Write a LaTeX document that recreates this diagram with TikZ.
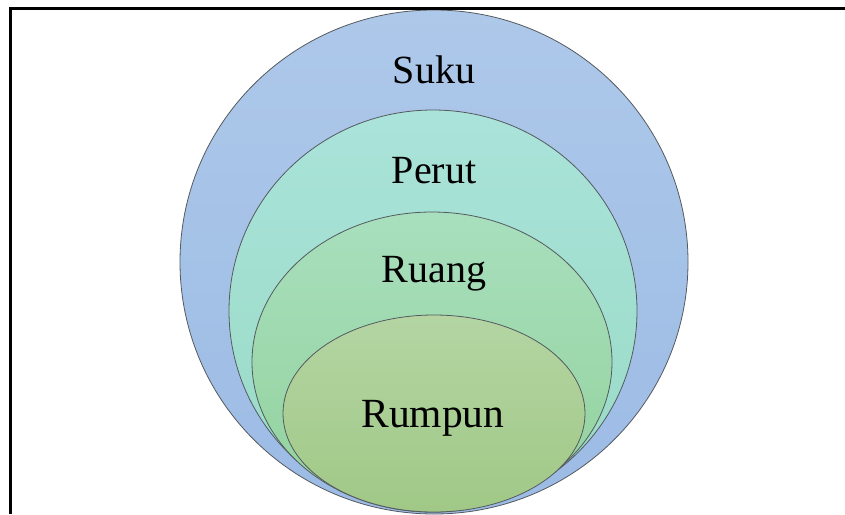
\documentclass[tikz,border=0pt]{standalone}
\usepackage{fontspec}
\setmainfont{Liberation Serif}
\definecolor{sukuT}{RGB}{173,200,233}
\definecolor{sukuB}{RGB}{156,187,229}
\definecolor{perutT}{RGB}{170,227,218}
\definecolor{perutB}{RGB}{152,218,196}
\definecolor{ruangT}{RGB}{168,223,190}
\definecolor{ruangB}{RGB}{146,210,155}
\definecolor{rumpunT}{RGB}{180,213,163}
\definecolor{rumpunB}{RGB}{160,200,134}
\definecolor{edge}{RGB}{85,90,95}
\tikzset{
  ring/.style={draw=edge, line width=0.8pt},
  lbl/.style={anchor=base, inner sep=0pt, font=\fontsize{40}{48}\selectfont, text=black},
  frame/.style={line width=3pt, draw=black}
}
\begin{document}
\begin{tikzpicture}[x=1pt,y=-1pt]
\useasboundingbox (0,0) rectangle (845,514);
\begin{scope}
\clip (0,0) rectangle (845,514);
\draw[ring, top color=sukuT, bottom color=sukuB] (434,262) ellipse [x radius=254pt, y radius=252pt];
\draw[ring, top color=perutT, bottom color=perutB] (433,311) ellipse [x radius=204pt, y radius=201pt];
\draw[ring, top color=ruangT, bottom color=ruangB] (432,362) ellipse [x radius=180pt, y radius=150pt];
\draw[ring, top color=rumpunT, bottom color=rumpunB] (434,413.5) ellipse [x radius=151pt, y radius=98.5pt];
\end{scope}
\node[lbl] (suku) at (434,83) {Suku};
\node[lbl] (perut) at (434,183) {Perut};
\node[lbl] (ruang) at (434,282) {Ruang};
\node[lbl, font=\fontsize{41.5}{48}\selectfont] (rumpun) at (433,427) {Rumpun};
\draw[frame] (10.5,514) -- (10.5,8.5) -- (845,8.5);
\end{tikzpicture}
\end{document}
